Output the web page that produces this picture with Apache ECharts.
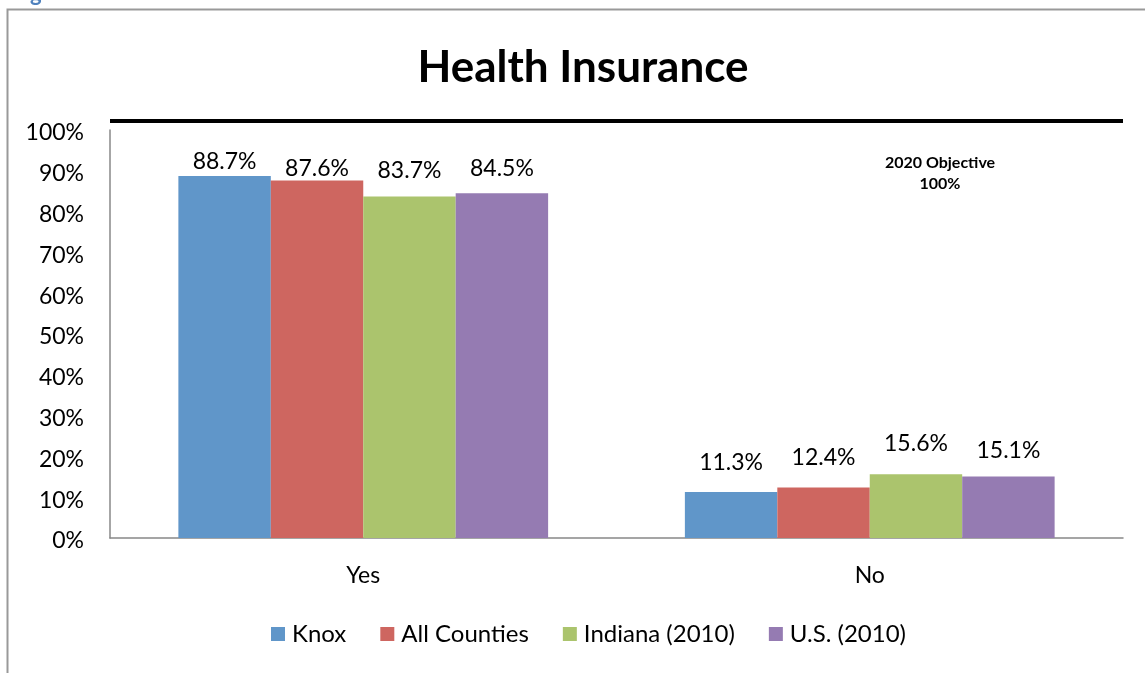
<!DOCTYPE html>
<html>
<head>
<meta charset="utf-8">
<script src="https://cdn.jsdelivr.net/npm/echarts@6/dist/echarts.min.js"></script>
<style>
html,body{margin:0;padding:0;background:#fff;}
#c{width:1145px;height:673px;}
</style>
</head>
<body>
<div id="c"></div>
<script>
const categories = ['Yes', 'No'];
const seriesNames = ['Knox', 'All Counties', 'Indiana (2010)', 'U.S. (2010)'];
const knox = [88.7, 11.3];
const allCounties = [87.6, 12.4];
const indiana = [83.7, 15.6];
const us = [84.5, 15.1];
const yTicks = [0, 10, 20, 30, 40, 50, 60, 70, 80, 90, 100];
const objectiveText = '2020 Objective\n100%';

const colors = ['#6096C9', '#CE6660', '#ABC46D', '#957BB2'];
// label vertical offsets (pixels) per series per category, mimicking manually placed labels
const labelOffsets = [[2, -13], [4, -13], [-9, -14], [-8, -9]];
const FONT = 'Lato';

const values = [knox, allCounties, indiana, us];
const chart = echarts.init(document.getElementById('c'), null, {renderer: 'canvas'});

const series = seriesNames.map((name, i) => ({
  name: name,
  type: 'bar',
  barGap: '0%',
  barCategoryGap: '27%',
  itemStyle: {color: colors[i]},
  data: values[i].map((v, j) => ({
    value: v,
    label: {offset: [0, labelOffsets[i][j]]}
  })),
  label: {
    show: true,
    position: 'top',
    distance: 5,
    color: '#000',
    fontFamily: FONT,
    fontSize: 23,
    formatter: p => p.value.toFixed(1) + '%'
  }
}));

chart.setOption({
  animation: false,
  backgroundColor: '#fff',
  title: {
    text: 'Health Insurance',
    left: 578,
    textAlign: 'center',
    top: 41,
    textStyle: {fontFamily: FONT, fontWeight: 'bold', fontSize: 44, color: '#000'}
  },
  legend: {
    data: seriesNames,
    bottom: 22,
    left: 266,
    itemWidth: 14,
    itemHeight: 14,
    itemGap: 34,
    icon: 'rect',
    textStyle: {fontFamily: FONT, fontSize: 24, color: '#000', padding: [0, 0, 0, 2]}
  },
  grid: {left: 110, right: 22, top: 130, bottom: 135},
  xAxis: {
    type: 'category',
    data: categories,
    axisLine: {lineStyle: {color: '#888', width: 1.5}},
    axisTick: {show: false},
    axisLabel: {fontFamily: FONT, fontSize: 23, color: '#000', margin: 26}
  },
  yAxis: {
    type: 'value',
    min: 0,
    max: 100,
    interval: 10,
    axisLine: {show: true, lineStyle: {color: '#888', width: 1.5}},
    axisTick: {show: false},
    splitLine: {show: false},
    axisLabel: {
      color: '#000', margin: 26,
      formatter: v => yTicks.includes(v) ? '{t|' + v + '%}' : '',
      rich: {t: {fontFamily: FONT, fontSize: 23, color: '#000', padding: [6, 0, 0, 0]}}
    }
  },
  graphic: [
    {type: 'rect', shape: {x: 7.5, y: 9.5, width: 1300, height: 800},
     style: {fill: null, stroke: '#999', lineWidth: 2}, silent: true, z: -1},
    {type: 'text', x: 30, y: -17,
     style: {text: 'g', fill: '#4F81BD', font: 'bold 22px ' + FONT}},
    {type: 'rect', shape: {x: 110, y: 119, width: 1013, height: 4},
     style: {fill: '#000'}, silent: true},
    {type: 'text', x: 940, y: 173,
     style: {text: objectiveText, fill: '#000', font: 'bold 16px ' + FONT,
             textAlign: 'center', textVerticalAlign: 'middle', lineHeight: 21}}
  ],
  series: series
});
</script>
</body>
</html>
